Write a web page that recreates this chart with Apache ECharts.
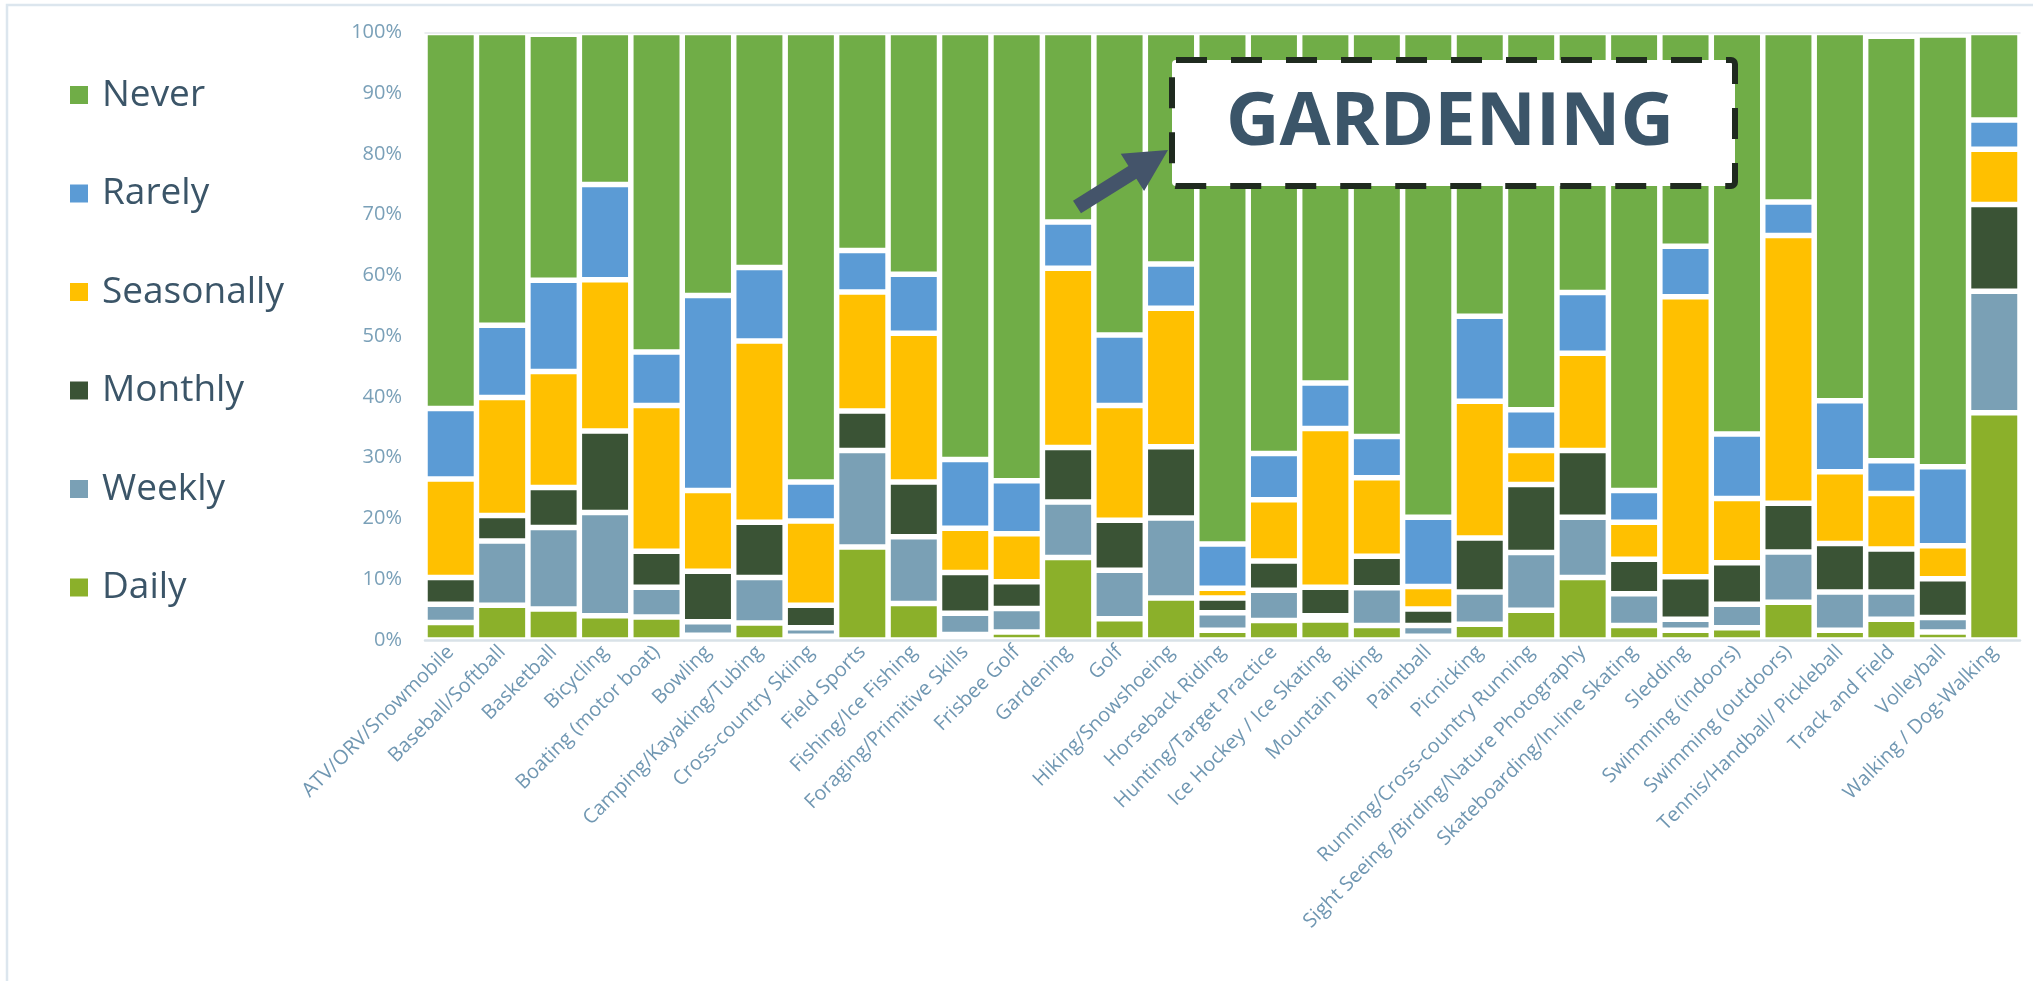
<!DOCTYPE html>
<html>
<head>
<meta charset="utf-8">
<script src="https://cdn.jsdelivr.net/npm/echarts@6/dist/echarts.min.js"></script>
<style>
  html, body { margin: 0; padding: 0; background: #ffffff; }
  #chart { width: 2033px; height: 981px; }
</style>
</head>
<body>
<div id="chart"></div>
<script>
const categories = [
  'ATV/ORV/Snowmobile', 'Baseball/Softball', 'Basketball', 'Bicycling', 'Boating (motor boat)',
  'Bowling', 'Camping/Kayaking/Tubing', 'Cross-country Skiing', 'Field Sports', 'Fishing/Ice Fishing',
  'Foraging/Primitive Skills', 'Frisbee Golf', 'Gardening', 'Golf', 'Hiking/Snowshoeing',
  'Horseback Riding', 'Hunting/Target Practice', 'Ice Hockey / Ice Skating', 'Mountain Biking', 'Paintball',
  'Picnicking', 'Running/Cross-country Running', 'Sight Seeing /Birding/Nature Photography',
  'Skateboarding/In-line Skating', 'Sledding', 'Swimming (indoors)', 'Swimming (outdoors)',
  'Tennis/Handball/ Pickleball', 'Track and Field', 'Volleyball', 'Walking / Dog-Walking'
];

const daily      = [2.9, 5.7, 5.1, 4.0, 3.8, 0.8, 2.8, 0.6, 15.3, 6.0, 0.9, 1.3, 13.6, 3.5, 6.9, 1.6, 3.2, 3.3, 2.4, 0.6, 2.6, 4.9, 10.3, 2.4, 1.6, 2.0, 6.2, 1.6, 3.4, 1.3, 37.4];
const weekly     = [3.0, 10.6, 13.4, 17.0, 4.9, 2.2, 7.5, 1.4, 15.9, 11.0, 3.5, 3.9, 9.1, 8.0, 13.2, 2.9, 5.0, 0.7, 6.2, 1.8, 5.3, 9.5, 9.9, 5.2, 1.8, 3.9, 8.3, 6.3, 4.5, 2.4, 20.0];
const monthly    = [4.4, 4.2, 6.6, 13.4, 5.9, 8.3, 9.1, 3.7, 6.5, 9.0, 6.7, 4.4, 9.0, 8.2, 11.7, 2.4, 4.8, 4.7, 5.2, 2.7, 8.9, 11.2, 11.0, 5.7, 7.0, 6.8, 8.0, 8.0, 7.1, 6.4, 14.3];
const seasonally = [16.2, 19.4, 19.1, 24.9, 24.0, 13.3, 29.8, 13.9, 19.6, 24.5, 7.3, 7.9, 29.5, 18.9, 22.8, 1.6, 10.1, 26.1, 12.9, 3.7, 22.5, 5.6, 16.0, 6.1, 46.1, 10.6, 44.1, 11.8, 9.1, 5.4, 9.1];
const rarely     = [11.6, 11.9, 15.0, 15.7, 8.8, 32.1, 12.1, 6.4, 6.8, 9.7, 11.3, 8.7, 7.6, 11.6, 7.3, 7.3, 7.6, 7.5, 6.8, 11.4, 14.0, 6.7, 10.0, 5.2, 8.3, 10.6, 5.5, 11.7, 5.4, 13.0, 4.8];
const never      = [61.9, 48.2, 40.5, 25.0, 52.6, 43.3, 38.7, 74.0, 35.9, 39.8, 70.3, 73.8, 31.2, 49.8, 38.1, 84.2, 69.3, 57.7, 66.5, 79.8, 46.7, 62.1, 42.8, 75.4, 35.2, 66.1, 27.9, 60.6, 69.9, 71.1, 14.4];

const seriesNames = ['Daily', 'Weekly', 'Monthly', 'Seasonally', 'Rarely', 'Never'];
const seriesData  = [daily, weekly, monthly, seasonally, rarely, never];
const seriesColors = ['#8bb02a', '#7aa0b5', '#3a5335', '#ffc000', '#5b9bd5', '#70ad47'];
const legendOrder = ['Never', 'Rarely', 'Seasonally', 'Monthly', 'Weekly', 'Daily'];
const yTicks = { min: 0, max: 100, interval: 10 };
const calloutText = 'GARDENING';

const FONT = '"Open Sans", "Noto Sans", sans-serif';

const chart = echarts.init(document.getElementById('chart'), null, { renderer: 'canvas' });

function arrowPoints(tail, tip, shaftW, headW, headL) {
  const dx = tip[0] - tail[0], dy = tip[1] - tail[1];
  const len = Math.sqrt(dx * dx + dy * dy);
  const ux = dx / len, uy = dy / len;
  const nx = -uy, ny = ux;
  const bx = tip[0] - ux * headL, by = tip[1] - uy * headL;
  return [
    [tail[0] + nx * shaftW / 2, tail[1] + ny * shaftW / 2],
    [bx + nx * shaftW / 2, by + ny * shaftW / 2],
    [bx + nx * headW / 2, by + ny * headW / 2],
    [tip[0], tip[1]],
    [bx - nx * headW / 2, by - ny * headW / 2],
    [bx - nx * shaftW / 2, by - ny * shaftW / 2],
    [tail[0] - nx * shaftW / 2, tail[1] - ny * shaftW / 2]
  ];
}

const option = {
  animation: false,
  backgroundColor: '#ffffff',
  textStyle: { fontFamily: FONT },
  grid: { left: 425, right: 13, top: 32.5, bottom: 341, containLabel: false },
  legend: {
    orient: 'vertical',
    left: 65,
    top: 70,
    data: legendOrder,
    icon: 'rect',
    itemWidth: 18,
    itemHeight: 18,
    itemGap: 58.5,
    itemStyle: { borderWidth: 0 },
    textStyle: { fontSize: 37, lineHeight: 40, color: '#3b5568', fontFamily: FONT, padding: [0, 0, 0, 9] }
  },
  xAxis: [
    {
      type: 'category',
      data: categories,
      z: 10,
      axisLine: { show: true, lineStyle: { color: '#d9e2e8', width: 2.5 } },
      axisTick: { show: false },
      axisLabel: { rotate: 45, margin: 9, fontSize: 20, color: '#7097b2', fontFamily: FONT, interval: 0 }
    },
    {
      type: 'category',
      data: categories,
      position: 'top',
      z: 10,
      axisLine: { show: true, lineStyle: { color: '#e3e7ea', width: 1.5 } },
      axisTick: { show: false },
      axisLabel: { show: false }
    }
  ],
  yAxis: {
    type: 'value',
    min: yTicks.min,
    max: yTicks.max,
    interval: yTicks.interval,
    axisLine: { show: false },
    axisTick: { show: false },
    splitLine: { show: false },
    axisLabel: { formatter: '{value}%', fontSize: 20, color: '#7aa0b8', margin: 23, fontFamily: FONT }
  },
  series: seriesNames.map((name, i) => ({
    name: name,
    type: 'bar',
    stack: 'total',
    xAxisIndex: 0,
    barCategoryGap: '0%',
    data: seriesData[i],
    itemStyle: { color: seriesColors[i], borderColor: '#ffffff', borderWidth: 2.75 },
    emphasis: { disabled: true }
  })),
  graphic: [
    {
      type: 'rect',
      z: 50,
      shape: { x: 7, y: 5, width: 2060, height: 1000 },
      style: { fill: 'none', stroke: '#dce6ee', lineWidth: 2.5 },
      silent: true
    },
    {
      type: 'polygon',
      z: 100,
      shape: { points: arrowPoints([1077, 207], [1168, 150], 15, 44, 42) },
      style: { fill: '#44546a' },
      silent: true
    },
    {
      type: 'rect',
      z: 100,
      shape: { x: 1172, y: 60, width: 563, height: 126, r: 4 },
      style: { fill: '#ffffff', stroke: '#1f2a1f', lineWidth: 6, lineDash: [31, 24] },
      silent: true
    },
    {
      type: 'text',
      z: 101,
      x: 1450,
      y: 124,
      style: {
        text: calloutText,
        fontSize: 74,
        fontWeight: 'bold',
        fontFamily: FONT,
        fill: '#3b5569',
        align: 'center',
        verticalAlign: 'middle'
      },
      silent: true
    }
  ]
};

chart.setOption(option);
</script>
</body>
</html>
